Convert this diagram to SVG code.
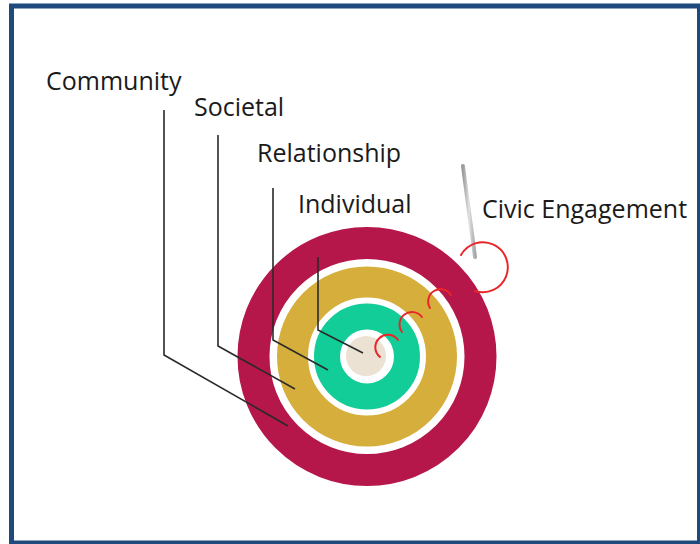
<svg xmlns="http://www.w3.org/2000/svg" width="700" height="544" viewBox="0 0 700 544">
<style>
.lbl{font-family:"Open Sans","Liberation Sans",sans-serif;font-size:25px;fill:#1a1a1a}
.lead{fill:none;stroke:#2a2a2a;stroke-width:1.6}
.ring{fill:none}
.swirl{fill:none;stroke:#e8262a;stroke-width:2;stroke-linecap:round}
</style>
<defs>
<linearGradient id="pin" x1="0" y1="0" x2="1" y2="0">
<stop offset="0" stop-color="#9a9a9a"/>
<stop offset="0.5" stop-color="#e2e2e2"/>
<stop offset="1" stop-color="#a8a8a8"/>
</linearGradient>
</defs>
<rect x="0" y="0" width="700" height="544" fill="#ffffff"/>
<rect id="frame" x="11.5" y="6" width="688" height="537" fill="none" stroke="#1f4a7d" stroke-width="5"/>

<g id="community-ring"><circle class="ring" cx="367" cy="356.5" r="113.5" stroke="#b5174b" stroke-width="32"/></g>
<g id="societal-ring"><circle class="ring" cx="367" cy="356.5" r="74.5" stroke="#d6ae3b" stroke-width="31"/></g>
<g id="relationship-ring"><circle class="ring" cx="367" cy="356.5" r="40" stroke="#12cd97" stroke-width="26"/></g>
<g id="individual-core"><circle cx="366" cy="356" r="20" fill="#ece2d3"/></g>

<g id="connectors">
<polyline class="lead" points="164,110 164,355 288,426"/>
<polyline class="lead" points="218,135 218,346 295,389"/>
<polyline class="lead" points="273,188 273,340 328,370"/>
<polyline class="lead" points="318,257 318,330 363,353"/>
</g>

<g id="civic-engagement">
<path class="swirl" d="M380,357 A12.5,12.5 0 1 1 398,340"/>
<path class="swirl" d="M402,332 A12.5,12.5 0 1 1 422,317"/>
<path class="swirl" d="M430,308 A12,12 0 1 1 451,295"/>
<line x1="463" y1="166" x2="475" y2="257" stroke="url(#pin)" stroke-width="4" stroke-linecap="round"/>
<path class="swirl" d="M461,255 A25,25 0 1 1 475,291"/>
</g>

<g id="labels">
<text class="lbl" x="46" y="90">Community</text>
<text class="lbl" x="194" y="116">Societal</text>
<text class="lbl" x="257" y="162">Relationship</text>
<text class="lbl" x="298" y="213">Individual</text>
<text class="lbl" x="482" y="218">Civic Engagement</text>
</g>
</svg>
